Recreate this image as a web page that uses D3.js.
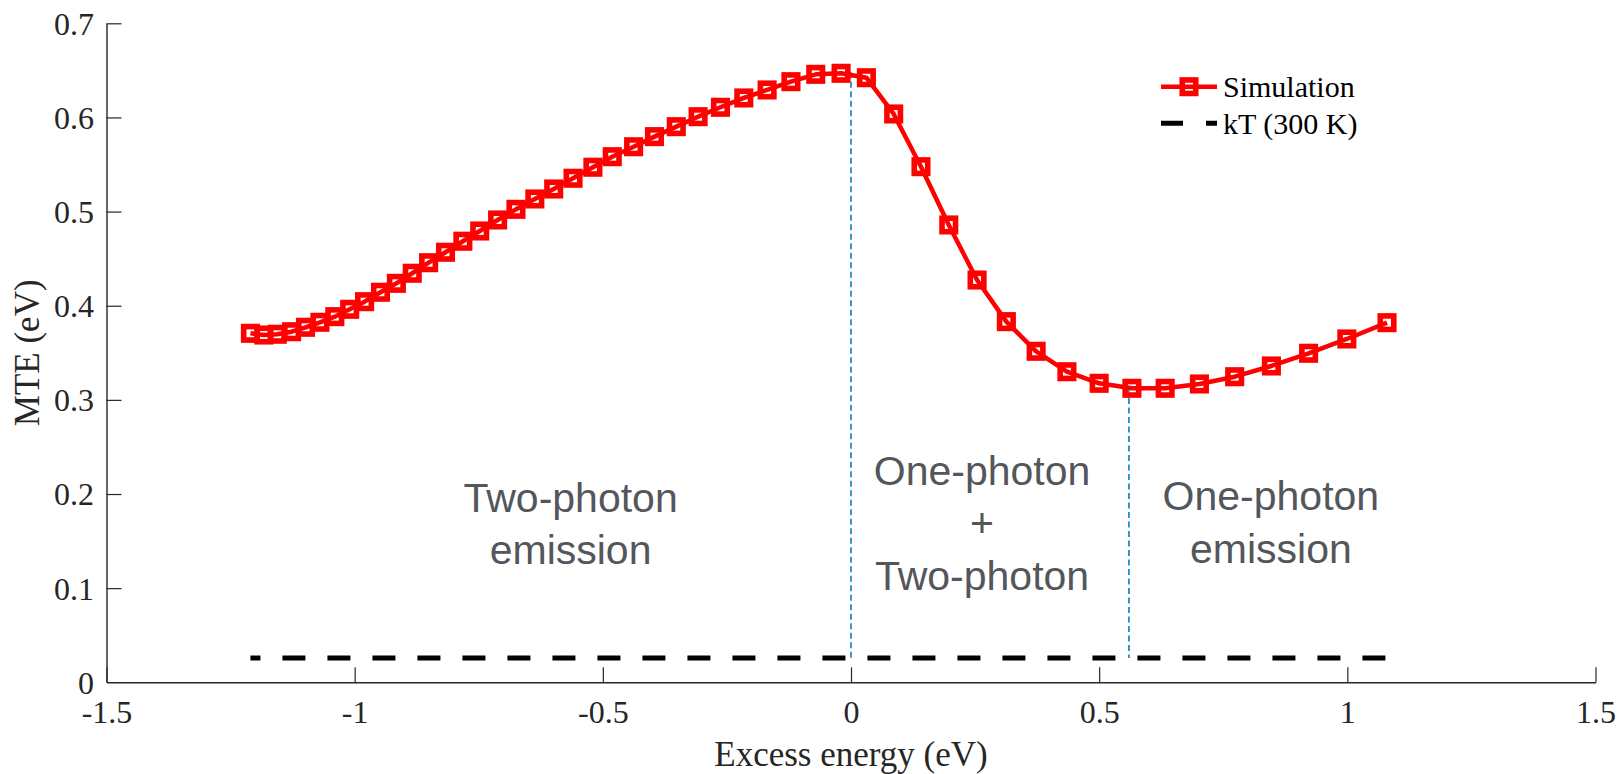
<!DOCTYPE html>
<html>
<head>
<meta charset="utf-8">
<script src="https://cdn.jsdelivr.net/npm/d3@7/dist/d3.min.js"></script>
<style>
  html, body { margin: 0; padding: 0; background: #fff; }
  svg { display: block; }
</style>
</head>
<body>
<svg id="chart" width="1617" height="774"></svg>
<script>
// ---- Data ----
const excessEnergy = [
  -1.210, -1.183, -1.156, -1.127, -1.099, -1.070, -1.040, -1.010, -0.980, -0.948,
  -0.916, -0.884, -0.851, -0.817, -0.782, -0.748, -0.712, -0.675, -0.637, -0.599,
  -0.560, -0.520, -0.481, -0.438, -0.396, -0.352, -0.308, -0.263, -0.216, -0.169,
  -0.121, -0.071, -0.020, 0.031, 0.086, 0.141, 0.197, 0.254, 0.313, 0.373,
  0.435, 0.500, 0.566, 0.633, 0.702, 0.773, 0.847, 0.922, 0.999, 1.080
];
const mte = [
  0.3707, 0.3689, 0.3697, 0.3724, 0.3771, 0.3824, 0.3884, 0.3962, 0.4043, 0.4143,
  0.4238, 0.4345, 0.4457, 0.4568, 0.4685, 0.4794, 0.4911, 0.5024, 0.5134, 0.5240,
  0.5354, 0.5471, 0.5583, 0.5689, 0.5796, 0.5902, 0.6008, 0.6108, 0.6207, 0.6292,
  0.6380, 0.6458, 0.6469, 0.6422, 0.6037, 0.5477, 0.4858, 0.4273, 0.3831, 0.3516,
  0.3299, 0.3176, 0.3123, 0.3123, 0.3169, 0.3246, 0.3360, 0.3495, 0.3647, 0.3820
];
const kT300 = 0.0259;                 // kT at 300 K (eV)
const dividerX = [0, 0.56];           // regime boundaries (eV)
const dividerTop = [0.648, 0.312];    // MTE where each boundary meets the curve
const xTicks = [-1.5, -1, -0.5, 0, 0.5, 1, 1.5];
const xTickLabels = ["-1.5", "-1", "-0.5", "0", "0.5", "1", "1.5"];
const yTicks = [0, 0.1, 0.2, 0.3, 0.4, 0.5, 0.6, 0.7];
const yTickLabels = ["0", "0.1", "0.2", "0.3", "0.4", "0.5", "0.6", "0.7"];
const legendLabels = ["Simulation", "kT (300 K)"];
const regionLabels = [
  ["Two-photon", "emission"],
  ["One-photon", "+", "Two-photon"],
  ["One-photon", "emission"]
];
const regionLabelX = [-0.565, 0.264, 0.846];
const regionLabelTopY = [0.1812, 0.2096, 0.1830];

// ---- Layout ----
const svg = d3.select("#chart");
const margin = { left: 106.5, right: 1595.5, top: 23.3, bottom: 682.3 };
const x = d3.scaleLinear().domain([-1.5, 1.5]).range([margin.left, margin.right]);
const y = d3.scaleLinear().domain([0, 0.7]).range([margin.bottom, margin.top]);
const axisColor = "#262626";
const serif = "'Liberation Serif', 'Times New Roman', serif";
const sans = "'Liberation Sans', Arial, sans-serif";
const red = "#ff0000";
const markerSide = 13.5, markerStroke = 5.6;

// ---- Axes ----
const xAxis = d3.axisBottom(x).tickValues(xTicks)
  .tickFormat((d, i) => xTickLabels[i]).tickSizeInner(-15).tickSizeOuter(0);
const yAxis = d3.axisLeft(y).tickValues(yTicks)
  .tickFormat((d, i) => yTickLabels[i]).tickSizeInner(-15).tickSizeOuter(0);

const gx = svg.append("g").attr("transform", `translate(0,${margin.bottom})`).call(xAxis);
const gy = svg.append("g").attr("transform", `translate(${margin.left},0)`).call(yAxis);

[gx, gy].forEach(g => {
  g.select(".domain").attr("stroke", axisColor).attr("stroke-width", 1.4);
  g.selectAll(".tick line").attr("stroke", axisColor).attr("stroke-width", 1.2);
  g.selectAll(".tick text").attr("fill", axisColor)
    .style("font-family", serif).style("font-size", "32px");
});
gx.selectAll(".tick text").attr("y", 0).attr("dy", null)
  .attr("transform", "translate(0,41)");
gy.selectAll(".tick text").attr("x", -12.5).attr("dy", "0.34em");
gy.selectAll(".tick").filter(d => d === 0).select("line").remove();

// axis titles
svg.append("text")
  .attr("x", (margin.left + margin.right) / 2).attr("y", 766)
  .attr("text-anchor", "middle").attr("fill", axisColor)
  .style("font-family", serif).style("font-size", "35px")
  .text("Excess energy (eV)");
svg.append("text")
  .attr("transform", `translate(39,${(margin.top + margin.bottom) / 2}) rotate(-90)`)
  .attr("text-anchor", "middle").attr("fill", axisColor)
  .style("font-family", serif).style("font-size", "35px")
  .text("MTE (eV)");

// ---- kT dashed line ----
const xMin = d3.min(excessEnergy), xMax = d3.max(excessEnergy);
svg.append("line")
  .attr("x1", x(xMin)).attr("x2", x(xMax))
  .attr("y1", y(kT300)).attr("y2", y(kT300))
  .attr("stroke", "#000").attr("stroke-width", 5)
  .attr("stroke-dasharray", "23 22").attr("stroke-dashoffset", 13);

// ---- Regime boundaries ----
svg.selectAll("line.divider").data(dividerX).enter().append("line")
  .attr("class", "divider")
  .attr("x1", d => x(d)).attr("x2", d => x(d))
  .attr("y1", (d, i) => y(dividerTop[i])).attr("y2", y(kT300))
  .attr("stroke", "#0072BD").attr("stroke-width", 1.5)
  .attr("stroke-dasharray", "6 3.5");

// ---- Simulation curve ----
const pts = excessEnergy.map((e, i) => [e, mte[i]]);
const line = d3.line().x(d => x(d[0])).y(d => y(d[1]));
svg.append("path").datum(pts)
  .attr("d", line).attr("fill", "none")
  .attr("stroke", red).attr("stroke-width", 4.5).attr("stroke-linejoin", "round");
svg.selectAll("rect.mk").data(pts).enter().append("rect")
  .attr("class", "mk")
  .attr("x", d => x(d[0]) - markerSide / 2).attr("y", d => y(d[1]) - markerSide / 2)
  .attr("width", markerSide).attr("height", markerSide)
  .attr("fill", "none").attr("stroke", red).attr("stroke-width", markerStroke);

// ---- Region labels ----
regionLabels.forEach((lines, i) => {
  const t = svg.append("text")
    .attr("text-anchor", "middle").attr("fill", "#53565b")
    .style("font-family", sans).style("font-size", "41px");
  lines.forEach((s, j) => {
    t.append("tspan").attr("x", x(regionLabelX[i]))
      .attr("y", y(regionLabelTopY[i]) + j * 52.5).text(s);
  });
});

// ---- Legend ----
const lg = svg.append("g");
const lgX0 = 1161, lgX1 = 1217, lgY0 = 86.7, lgY1 = 123.3, lgTextX = 1223;
lg.append("line").attr("x1", lgX0).attr("x2", lgX1).attr("y1", lgY0).attr("y2", lgY0)
  .attr("stroke", red).attr("stroke-width", 4.5);
lg.append("rect").attr("x", (lgX0 + lgX1) / 2 - markerSide / 2).attr("y", lgY0 - markerSide / 2)
  .attr("width", markerSide).attr("height", markerSide)
  .attr("fill", "none").attr("stroke", red).attr("stroke-width", markerStroke);
lg.append("line").attr("x1", lgX0).attr("x2", lgX1).attr("y1", lgY1).attr("y2", lgY1)
  .attr("stroke", "#000").attr("stroke-width", 5).attr("stroke-dasharray", "22 23");
[lgY0, lgY1].forEach((yy, i) => {
  lg.append("text").attr("x", lgTextX).attr("y", yy + 10.5)
    .attr("fill", "#000").style("font-family", serif).style("font-size", "30px")
    .text(legendLabels[i]);
});
</script>
</body>
</html>
